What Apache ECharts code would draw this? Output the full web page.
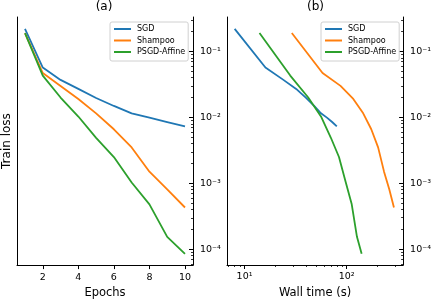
<!DOCTYPE html>
<html>
<head>
<meta charset="utf-8">
<script src="https://cdn.jsdelivr.net/npm/echarts@6/dist/echarts.min.js"></script>
<style>
html,body{margin:0;padding:0;background:#fff;}
#chart{width:434px;height:304px;}
</style>
</head>
<body>
<div id="chart"></div>
<script>
// ---- data ----
const seriesNames = ['SGD', 'Shampoo', 'PSGD-Affine'];
const epochs = [1, 2, 3, 4, 5, 6, 7, 8, 9, 10];
const sgdLoss = [0.22, 0.057, 0.037, 0.027, 0.0197, 0.0149, 0.0115, 0.0099, 0.0085, 0.0073];
const shampooLoss = [0.19, 0.047, 0.030, 0.019, 0.0115, 0.0066, 0.0035, 0.0015, 0.00081, 0.00043];
const psgdLoss = [0.19, 0.043, 0.020, 0.0103, 0.0049, 0.0025, 0.00103, 0.00048, 0.000154, 0.000085];
const sgdTime = [8, 16, 24, 32, 40, 48, 56, 64, 72, 80];
const shampooTime = [29, 58, 87, 116, 145, 174, 203, 232, 261, 290];
const psgdTime = [14, 28, 42, 56, 70, 84, 98, 112, 126, 140];
const epochTicks = [2, 4, 6, 8, 10];
const lossDecades = [-4, -3, -2, -1];
const timeDecades = [1, 2];

const colors = ['#1f77b4', '#ff7f0e', '#2ca02c'];
const FONT = 'DejaVu Sans';
const L = Math.log10;

const supMap = {'-': '\u207B', '0': '\u2070', '1': '\u00B9', '2': '\u00B2', '3': '\u00B3', '4': '\u2074', '5': '\u2075'};
function powLabel(v) {
  const e = Math.round(v);
  return '10' + String(e).split('').map(c => supMap[c]).join('');
}
function minorLogs(lo, hi) {
  const out = [];
  for (let n = Math.floor(lo) - 1; n <= Math.ceil(hi); n++) {
    for (let k = 2; k <= 9; k++) {
      const v = n + L(k);
      if (v >= lo && v <= hi) out.push(v);
    }
  }
  return out;
}

const yMin = -4.24, yMax = -0.478;
const xbMin = 0.828, xbMax = 2.552;
const yMinor = minorLogs(yMin, yMax);
const xbMinor = minorLogs(xbMin, xbMax);

const lineAx = {show: true, onZero: false, lineStyle: {color: '#000', width: 1}};
const txt = {color: '#000', fontFamily: FONT};

function rightMajor(grid) {
  return {
    type: 'value', gridIndex: grid, position: 'right', min: yMin, max: yMax,
    axisLine: lineAx,
    axisTick: {show: true, inside: true, length: 4, customValues: lossDecades, lineStyle: {color: '#000', width: 1}},
    axisLabel: {show: true, customValues: lossDecades, formatter: powLabel, margin: 7, fontSize: 9.5, ...txt},
    splitLine: {show: false}
  };
}
function rightMinor(grid) {
  return {
    type: 'value', gridIndex: grid, position: 'right', min: yMin, max: yMax,
    axisLine: {show: false},
    axisTick: {show: true, inside: true, length: 2, customValues: yMinor, lineStyle: {color: '#000', width: 0.8}},
    axisLabel: {show: false},
    splitLine: {show: false}
  };
}
function leftSpine(grid, name) {
  return {
    type: 'value', gridIndex: grid, position: 'left', min: yMin, max: yMax,
    axisLine: lineAx, axisTick: {show: false}, axisLabel: {show: false}, splitLine: {show: false},
    name: name || '', nameLocation: 'middle', nameGap: 4, nameRotate: 90,
    nameTextStyle: {fontSize: 12, ...txt}
  };
}

function mkSeries(xs, ys, i, xi, yi) {
  return {
    name: seriesNames[i], type: 'line', xAxisIndex: xi, yAxisIndex: yi,
    data: xs.map((x, j) => [x, L(ys[j])]),
    symbol: 'none', lineStyle: {width: 1.8, color: colors[i]}, itemStyle: {color: colors[i]},
    z: 3 + i
  };
}

function mkLegend(left) {
  return {
    data: seriesNames, orient: 'vertical', left: left, top: 22,
    itemWidth: 17, itemHeight: 8, itemGap: 3.5,
    padding: [3, 3, 5, 3],
    borderColor: '#d0d0d0', borderWidth: 1, borderRadius: 2, backgroundColor: 'rgba(255,255,255,0.8)',
    textStyle: {fontSize: 8, lineHeight: 8, padding: [0, 0, 0, 1], ...txt},
    itemStyle: {opacity: 0}, selectedMode: false
  };
}

const option = {
  animation: false,
  backgroundColor: '#fff',
  title: [
    {text: '(a)', left: 104, top: 1, padding: 0, textAlign: 'center', textStyle: {fontSize: 12, fontWeight: 'normal', ...txt}},
    {text: '(b)', left: 315.5, top: 1, padding: 0, textAlign: 'center', textStyle: {fontSize: 12, fontWeight: 'normal', ...txt}}
  ],
  legend: [mkLegend(110), mkLegend(321)],
  grid: [
    {left: 15, right: 241, top: 17, bottom: 35, containLabel: false},
    {left: 227, right: 30, top: 17, bottom: 35, containLabel: false}
  ],
  xAxis: [
    {
      type: 'value', gridIndex: 0, position: 'bottom', min: 0.55, max: 10.45,
      axisLine: lineAx,
      axisTick: {show: true, length: 4, customValues: epochTicks, lineStyle: {color: '#000', width: 1}},
      axisLabel: {show: true, customValues: epochTicks, margin: 7, fontSize: 9.5, ...txt},
      splitLine: {show: false},
      name: 'Epochs', nameLocation: 'middle', nameGap: 21, nameTextStyle: {fontSize: 11.5, ...txt}
    },
    {
      type: 'value', gridIndex: 1, position: 'bottom', min: xbMin, max: xbMax,
      axisLine: lineAx,
      axisTick: {show: true, length: 4, customValues: timeDecades, lineStyle: {color: '#000', width: 1}},
      axisLabel: {show: true, customValues: timeDecades, formatter: powLabel, margin: 7, fontSize: 9.5, ...txt},
      splitLine: {show: false},
      name: 'Wall time (s)', nameLocation: 'middle', nameGap: 22, nameTextStyle: {fontSize: 11.5, ...txt}
    },
    {
      type: 'value', gridIndex: 1, position: 'bottom', min: xbMin, max: xbMax,
      axisLine: {show: false},
      axisTick: {show: true, length: 2, customValues: xbMinor, lineStyle: {color: '#000', width: 0.8}},
      axisLabel: {show: false},
      splitLine: {show: false}
    }
  ],
  yAxis: [
    rightMajor(0), rightMinor(0), leftSpine(0, 'Train loss'),
    rightMajor(1), rightMinor(1), leftSpine(1)
  ],
  series: [
    mkSeries(epochs, sgdLoss, 0, 0, 0),
    mkSeries(epochs, shampooLoss, 1, 0, 0),
    mkSeries(epochs, psgdLoss, 2, 0, 0),
    mkSeries(sgdTime.map(L), sgdLoss, 0, 1, 3),
    mkSeries(shampooTime.map(L), shampooLoss, 1, 1, 3),
    mkSeries(psgdTime.map(L), psgdLoss, 2, 1, 3)
  ]
};

const chart = echarts.init(document.getElementById('chart'), null, {renderer: 'canvas'});
chart.setOption(option);
</script>
</body>
</html>
